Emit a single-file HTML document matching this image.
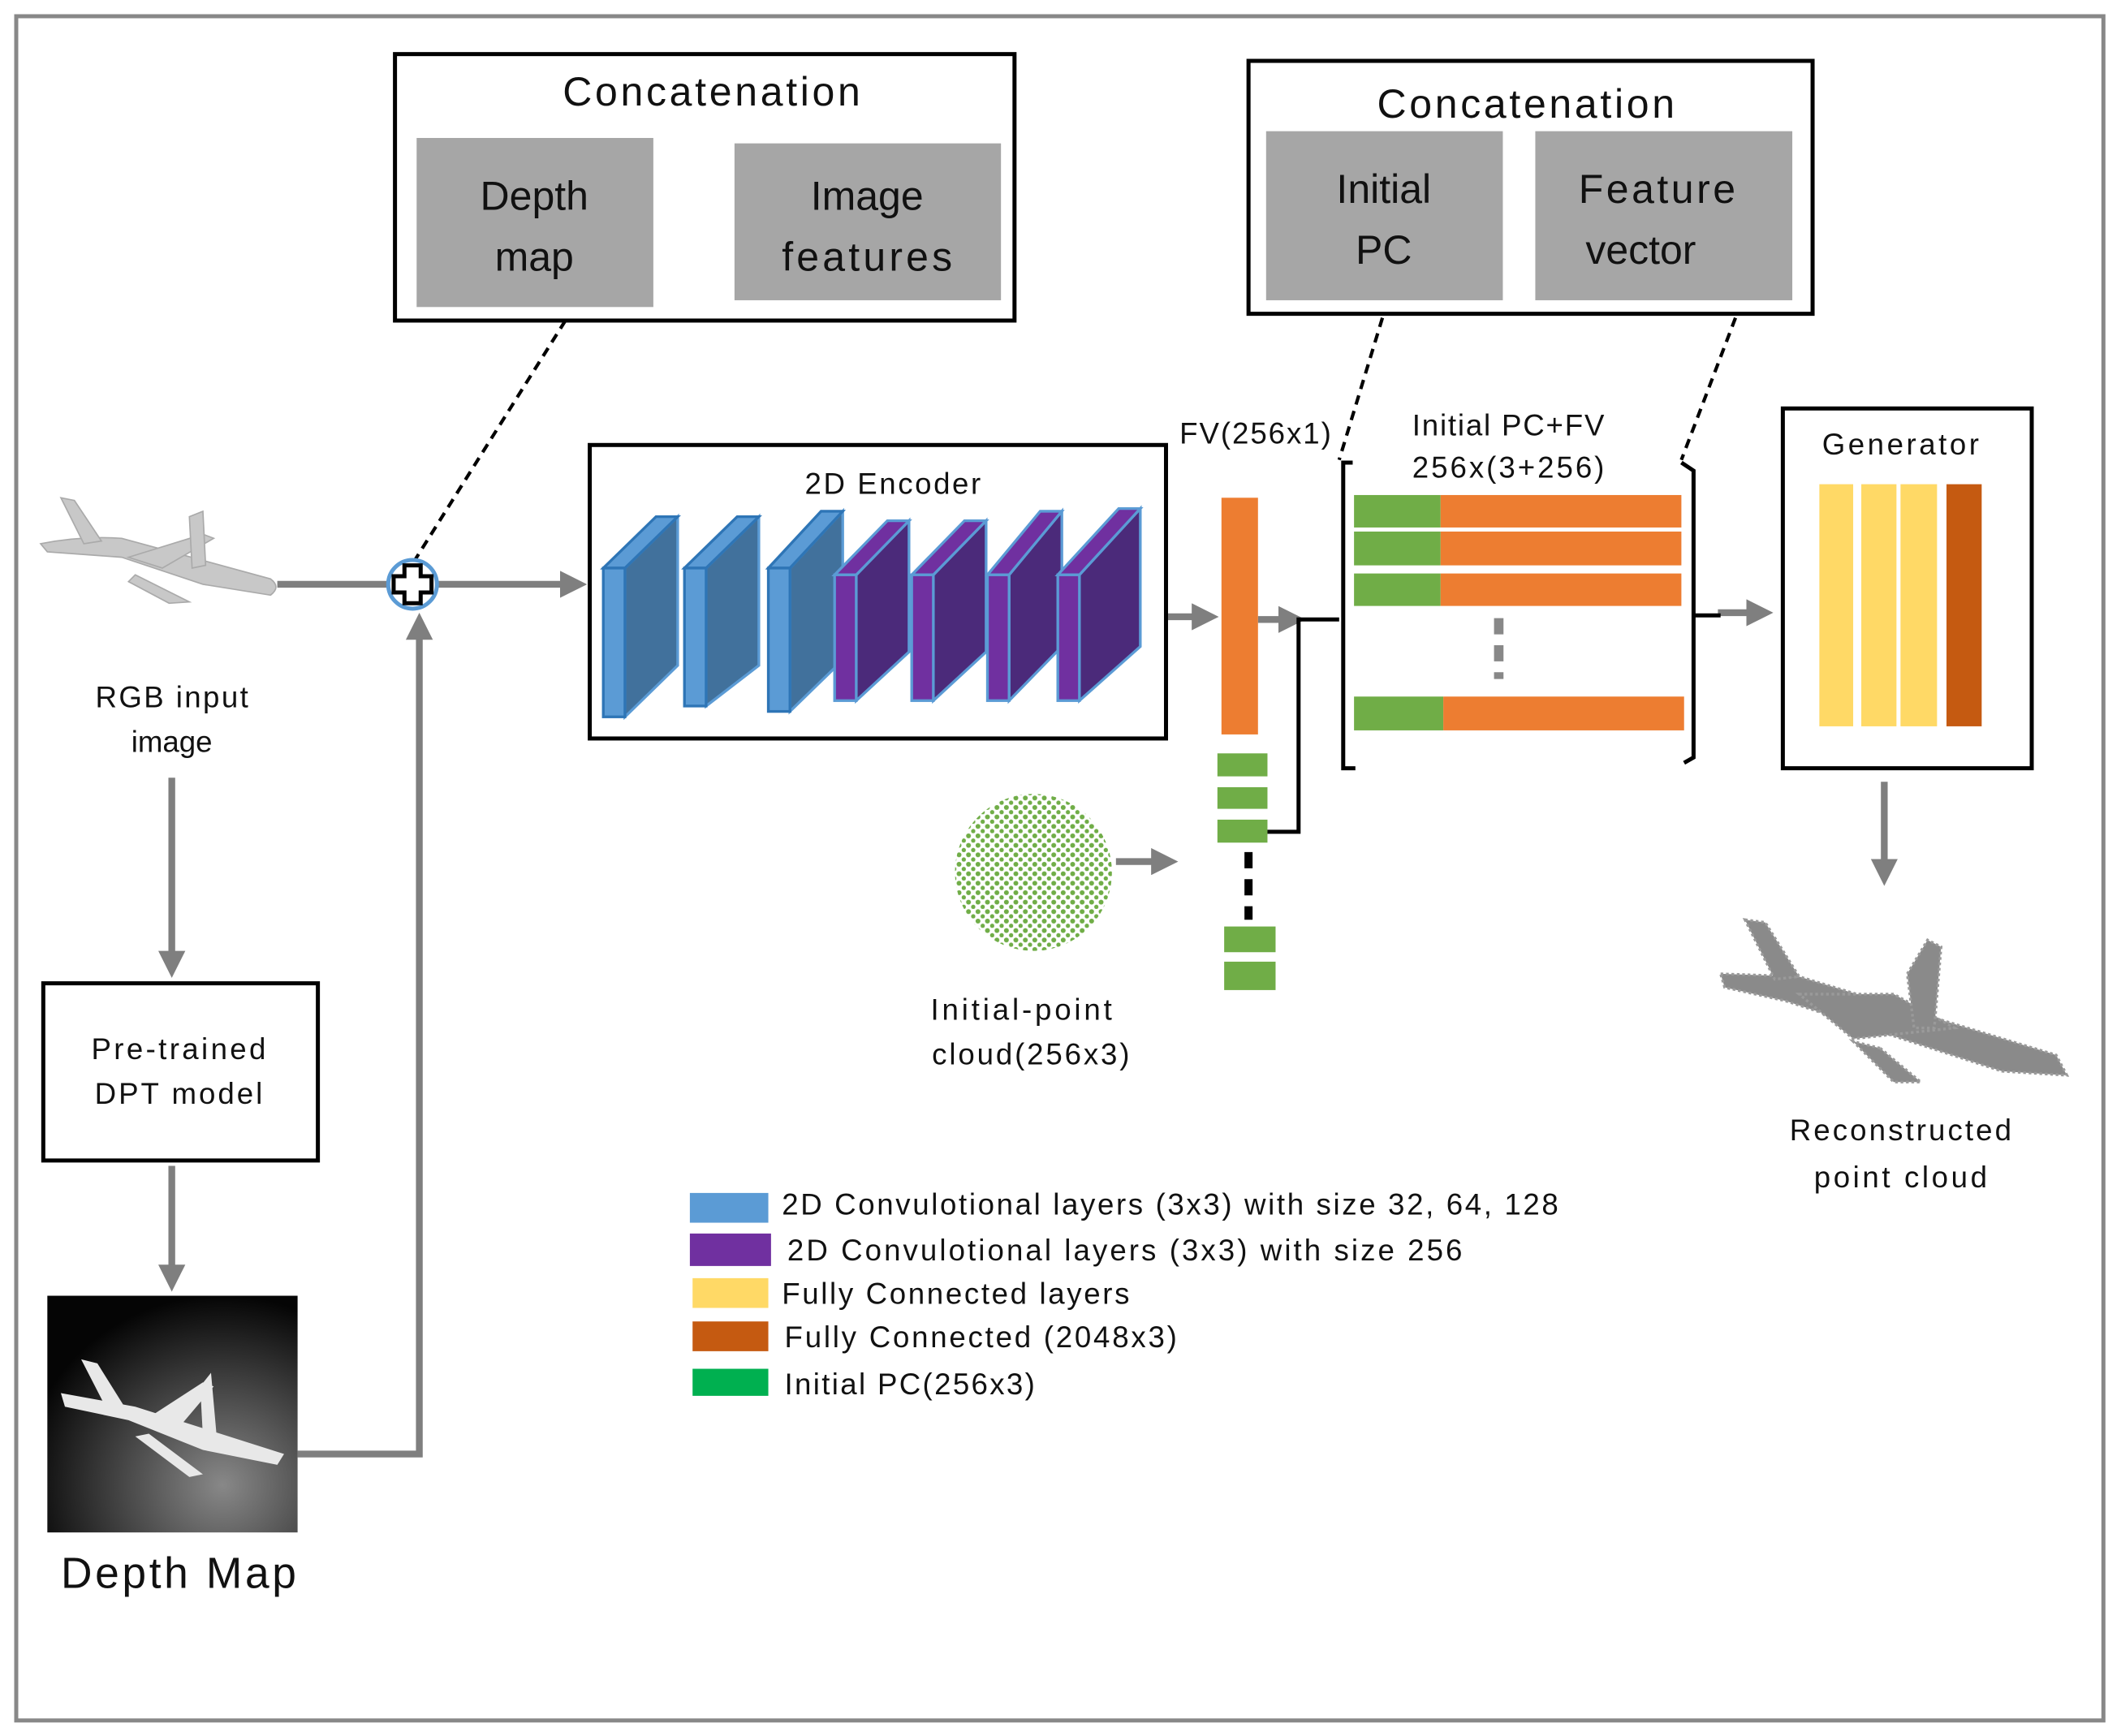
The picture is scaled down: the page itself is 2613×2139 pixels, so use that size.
<!DOCTYPE html>
<html><head><meta charset="utf-8"><style>
html,body{margin:0;padding:0;background:#fff}
svg{display:block}
text{font-family:"Liberation Sans",sans-serif;fill:#111}
</style></head><body>
<svg width="2613" height="2139" viewBox="0 0 1568 1283.5" preserveAspectRatio="none" xmlns="http://www.w3.org/2000/svg">
<defs>
<marker id="ag" markerWidth="4" markerHeight="4" refX="2.2" refY="2" orient="auto" markerUnits="strokeWidth"><path d="M0,0 L4,2 L0,4 Z" fill="#7f7f7f"/></marker>
<pattern id="dots" width="7" height="7" patternUnits="userSpaceOnUse"><rect width="7" height="7" fill="#fff"/><circle cx="2" cy="2" r="1.8" fill="#70ad47"/><circle cx="5.5" cy="5.5" r="1.6" fill="#70ad47"/></pattern>
<radialGradient id="dg" cx="0.7" cy="0.8" r="0.8"><stop offset="0" stop-color="#888"/><stop offset="1" stop-color="#050505"/></radialGradient>
</defs>
<rect x="0" y="0" width="1568" height="1284" fill="#fff"/>
<rect x="12" y="12" width="1543" height="1260" fill="none" stroke="#888" stroke-width="3"/>

<rect x="292" y="40" width="458" height="197" fill="#fff" stroke="#000" stroke-width="3"/>
<text x="526" y="78" font-size="30" text-anchor="middle" textLength="220">Concatenation</text>
<rect x="308" y="102" width="175" height="125" fill="#a6a6a6"/>
<rect x="543" y="106" width="197" height="116" fill="#a6a6a6"/>
<text x="395" y="155" font-size="30" text-anchor="middle">Depth</text>
<text x="395" y="200" font-size="30" text-anchor="middle">map</text>
<text x="641" y="155" font-size="30" text-anchor="middle">Image</text>
<text x="641" y="200" font-size="30" text-anchor="middle" textLength="126">features</text>

<rect x="923" y="45" width="417" height="187" fill="#fff" stroke="#000" stroke-width="3"/>
<text x="1128" y="87" font-size="30" text-anchor="middle" textLength="220">Concatenation</text>
<rect x="936" y="97" width="175" height="125" fill="#a6a6a6"/>
<rect x="1135" y="97" width="190" height="125" fill="#a6a6a6"/>
<text x="1023" y="150" font-size="30" text-anchor="middle">Initial</text>
<text x="1023" y="195" font-size="30" text-anchor="middle">PC</text>
<text x="1225" y="150" font-size="30" text-anchor="middle" textLength="116">Feature</text>
<text x="1213" y="195" font-size="30" text-anchor="middle">vector</text>

<g stroke="#000" stroke-width="2.5" stroke-dasharray="7,5" fill="none">
<line x1="418" y1="237" x2="303" y2="420"/>
<line x1="1022" y1="235" x2="990" y2="340"/>
<line x1="1283" y1="235" x2="1243" y2="340"/>
</g>

<g fill="#c8c8c8" stroke="#aaa" stroke-width="1">
<path d="M30,402 Q60,396 90,398 L200,428 Q208,434 200,440 L150,432 L90,412 L35,408 Z"/>
<path d="M45,368 L55,370 L75,400 L62,402 Z"/>
<path d="M95,412 L150,395 L158,398 L120,420 Z"/>
<path d="M100,425 L140,445 L125,446 L95,430 Z"/>
<path d="M140,382 L150,378 L152,418 L142,420 Z"/>
</g>
<text x="127" y="523" font-size="22" text-anchor="middle" textLength="113">RGB input</text>
<text x="127" y="556" font-size="22" text-anchor="middle">image</text>

<g stroke="#7f7f7f" stroke-width="5" fill="none">
<line x1="205" y1="432" x2="287" y2="432"/>
<line x1="323" y1="432" x2="425" y2="432" marker-end="url(#ag)"/>
<line x1="127" y1="575" x2="127" y2="714" marker-end="url(#ag)"/>
<line x1="127" y1="862" x2="127" y2="946" marker-end="url(#ag)"/>
<polyline points="220,1075 310,1075 310,462" marker-end="url(#ag)"/>
<line x1="862" y1="456" x2="892" y2="456" marker-end="url(#ag)"/>
<line x1="930" y1="458" x2="956" y2="458" marker-end="url(#ag)"/>
<line x1="825" y1="637" x2="862" y2="637" marker-end="url(#ag)"/>
<line x1="1270" y1="453" x2="1302" y2="453" marker-end="url(#ag)"/>
<line x1="1393" y1="578" x2="1393" y2="646" marker-end="url(#ag)"/>
</g>
<circle cx="305" cy="432" r="18" fill="#fff" stroke="#5b9bd5" stroke-width="3"/>
<path d="M299,418 h12 v8 h8 v12 h-8 v8 h-12 v-8 h-8 v-12 h8 z" fill="#fff" stroke="#000" stroke-width="3"/>

<rect x="436" y="329" width="426" height="217" fill="#fff" stroke="#000" stroke-width="3"/>
<text x="660" y="365" font-size="22" text-anchor="middle" textLength="130">2D Encoder</text>
<g stroke-width="2">
<g fill="#41719c" stroke="#5b9bd5">
<path d="M462,420 L501,382 L501,492 L462,530 Z"/>
<path d="M522,420 L561,382 L561,492 L522,522 Z"/>
<path d="M584,420 L623,378 L623,488 L584,526 Z"/>
</g>
<g fill="#5b9bd5" stroke="#2e75b6">
<path d="M446,420 L485,382 L501,382 L462,420 Z"/>
<rect x="446" y="420" width="16" height="110"/>
<path d="M506,420 L545,382 L561,382 L522,420 Z"/>
<rect x="506" y="420" width="16" height="102"/>
<path d="M568,420 L607,378 L623,378 L584,420 Z"/>
<rect x="568" y="420" width="16" height="106"/>
</g>
<g fill="#4b2a7a" stroke="#5b9bd5">
<path d="M633,425 L672,385 L672,482 L633,518 Z"/>
<path d="M690,425 L729,385 L729,482 L690,518 Z"/>
<path d="M746,425 L785,378 L785,478 L746,518 Z"/>
<path d="M798,425 L843,376 L843,478 L798,518 Z"/>
</g>
<g fill="#7030a0" stroke="#5b9bd5">
<path d="M617,425 L656,385 L672,385 L633,425 Z"/>
<rect x="617" y="425" width="16" height="93"/>
<path d="M674,425 L713,385 L729,385 L690,425 Z"/>
<rect x="674" y="425" width="16" height="93"/>
<path d="M730,425 L769,378 L785,378 L746,425 Z"/>
<rect x="730" y="425" width="16" height="93"/>
<path d="M782,425 L827,376 L843,376 L798,425 Z"/>
<rect x="782" y="425" width="16" height="93"/>
</g>
</g>

<text x="928" y="328" font-size="22" text-anchor="middle" textLength="112">FV(256x1)</text>
<rect x="903" y="368" width="27" height="175" fill="#ed7d31"/>
<g fill="#70ad47">
<rect x="900" y="557" width="37" height="17"/>
<rect x="900" y="582" width="37" height="16"/>
<rect x="900" y="606" width="37" height="17"/>
<rect x="905" y="685" width="38" height="19"/>
<rect x="905" y="711" width="38" height="21"/>
</g>
<line x1="923" y1="630" x2="923" y2="680" stroke="#000" stroke-width="6" stroke-dasharray="12,8"/>
<polyline points="937,615 960,615 960,458 990,458" fill="none" stroke="#000" stroke-width="3"/>

<circle cx="764" cy="645" r="58" fill="url(#dots)"/>
<text x="755" y="754" font-size="22" text-anchor="middle" textLength="134">Initial-point</text>
<text x="762" y="787" font-size="22" text-anchor="middle" textLength="146">cloud(256x3)</text>

<text x="1115" y="322" font-size="22" text-anchor="middle" textLength="142">Initial PC+FV</text>
<text x="1115" y="353" font-size="22" text-anchor="middle" textLength="142">256x(3+256)</text>
<path d="M1000,342 L993,342 L993,568 L1002,568" fill="none" stroke="#000" stroke-width="3"/>
<path d="M1243,342 L1252,348 L1252,560 L1245,564" fill="none" stroke="#000" stroke-width="3"/>
<line x1="1252" y1="455" x2="1272" y2="455" stroke="#000" stroke-width="3"/>
<g fill="#70ad47">
<rect x="1001" y="366" width="64" height="24"/>
<rect x="1001" y="393" width="64" height="25"/>
<rect x="1001" y="424" width="64" height="24"/>
<rect x="1001" y="515" width="66" height="25"/>
</g>
<g fill="#ed7d31">
<rect x="1065" y="366" width="178" height="24"/>
<rect x="1065" y="393" width="178" height="25"/>
<rect x="1065" y="424" width="178" height="24"/>
<rect x="1067" y="515" width="178" height="25"/>
</g>
<line x1="1108" y1="457" x2="1108" y2="502" stroke="#888" stroke-width="7" stroke-dasharray="12,8"/>

<rect x="1318" y="302" width="184" height="266" fill="#fff" stroke="#000" stroke-width="3"/>
<text x="1405" y="336" font-size="22" text-anchor="middle" textLength="116">Generator</text>
<g fill="#ffd966">
<rect x="1345" y="358" width="25" height="179"/>
<rect x="1376" y="358" width="26" height="179"/>
<rect x="1405" y="358" width="27" height="179"/>
</g>
<rect x="1439" y="358" width="26" height="179" fill="#c55a11"/>

<g fill="#8a8a8a" stroke="#9a9a9a" stroke-width="2" stroke-dasharray="2,2">
<path d="M1272,720 L1330,722 L1520,780 L1528,795 L1480,792 L1320,740 L1275,730 Z"/>
<path d="M1290,680 L1305,682 L1330,722 L1312,724 Z"/>
<path d="M1330,735 L1400,735 L1445,760 L1370,768 Z"/>
<path d="M1390,775 L1420,800 L1400,800 L1370,770 Z"/>
<path d="M1410,720 L1425,695 L1435,700 L1430,760 L1415,760 Z"/>
</g>
<text x="1405" y="843" font-size="22" text-anchor="middle" textLength="164">Reconstructed</text>
<text x="1405" y="878" font-size="22" text-anchor="middle" textLength="128">point cloud</text>

<rect x="32" y="727" width="203" height="131" fill="#fff" stroke="#000" stroke-width="3"/>
<text x="132" y="783" font-size="22" text-anchor="middle" textLength="129">Pre-trained</text>
<text x="132" y="816" font-size="22" text-anchor="middle" textLength="124">DPT model</text>

<rect x="35" y="958" width="185" height="175" fill="url(#dg)"/>
<g fill="#e8e8e8">
<path d="M45,1030 L100,1040 L210,1075 L205,1083 L150,1072 L95,1050 L48,1040 Z"/>
<path d="M60,1005 L72,1008 L92,1040 L78,1040 Z"/>
<path d="M110,1048 L150,1022 L158,1025 L130,1058 Z"/>
<path d="M110,1060 L150,1090 L140,1092 L100,1062 Z"/>
<path d="M148,1025 L156,1015 L160,1060 L150,1062 Z"/>
</g>
<text x="132" y="1174" font-size="32" text-anchor="middle" textLength="174">Depth Map</text>

<rect x="510" y="882" width="58" height="22" fill="#5b9bd5"/>
<rect x="510" y="912" width="60" height="24" fill="#7030a0"/>
<rect x="512" y="945" width="56" height="22" fill="#ffd966"/>
<rect x="512" y="977" width="56" height="22" fill="#c55a11"/>
<rect x="512" y="1012" width="56" height="20" fill="#00b050"/>
<text x="578" y="898" font-size="22" textLength="574">2D Convulotional layers (3x3) with size 32, 64, 128</text>
<text x="582" y="932" font-size="22" textLength="499">2D Convulotional layers (3x3) with size  256</text>
<text x="578" y="964" font-size="22" textLength="257">Fully Connected layers</text>
<text x="580" y="996" font-size="22" textLength="290">Fully Connected (2048x3)</text>
<text x="580" y="1031" font-size="22" textLength="185">Initial PC(256x3)</text>
</svg>
</body></html>
